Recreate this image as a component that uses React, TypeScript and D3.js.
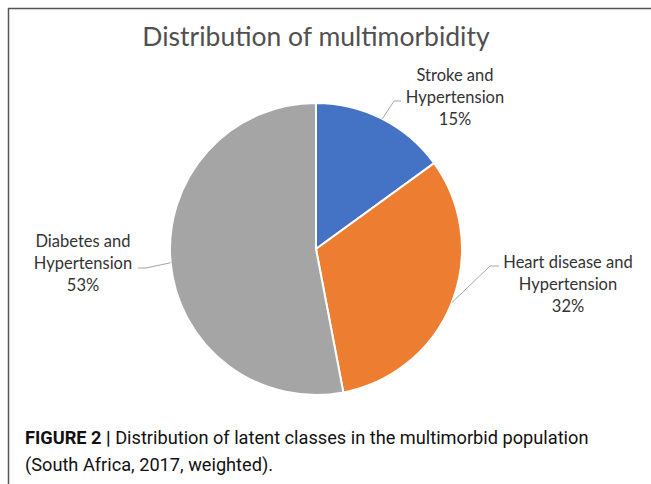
import * as d3 from "d3";

const W = 651;
const H = 484;

// slice data (clockwise from 12 o'clock)
const categories = ["Stroke and Hypertension", "Heart disease and Hypertension", "Diabetes and Hypertension"];
const shares = [15, 32, 53];
const colors = ["#4472C4", "#ED7D31", "#A5A5A5"];
// label lines per slice
const labelLines = [
  ["Stroke and", "Hypertension", "15%"],
  ["Heart disease and", "Hypertension", "32%"],
  ["Diabetes and", "Hypertension", "53%"],
];

const CX = 316;
const CY = 249;
const R = 146;

// label layout: text centre, first line y, leader elbow + end
const LABEL_POS = [
  { x: 455, y: 81, elbow: [394, 101], end: [401, 101] },
  { x: 568, y: 268, elbow: [490, 266], end: [499, 266] },
  { x: 83, y: 247, elbow: [146, 268], end: [138, 268] },
];
const LINE_H = 22;

export default function App() {
  const pie = d3
    .pie<number>()
    .sort(null)
    .value((d) => d);
  const arcs = pie(shares);
  const arcGen = d3.arc<d3.PieArcDatum<number>>().innerRadius(0).outerRadius(R);

  const slices = arcs.map((a, i) => (
    <path key={categories[i]} d={arcGen(a) as string} fill={colors[i]} stroke="#fff" strokeWidth={2} />
  ));

  const labels = arcs.map((a, i) => {
    const mid = (a.startAngle + a.endAngle) / 2;
    const px = CX + R * Math.sin(mid);
    const py = CY - R * Math.cos(mid);
    const p = LABEL_POS[i];
    return (
      <g key={i}>
        <polyline
          points={`${px},${py} ${p.elbow[0]},${p.elbow[1]} ${p.end[0]},${p.end[1]}`}
          fill="none"
          stroke="#a6a6a6"
          strokeWidth={1}
        />
        {labelLines[i].map((t, j) => (
          <text
            key={j}
            x={p.x}
            y={p.y + j * LINE_H}
            textAnchor="middle"
            fontFamily="Lato, 'Open Sans', sans-serif"
            fontSize={16.5}
            fill="#333"
          >
            {t}
          </text>
        ))}
      </g>
    );
  });

  return (
    <svg width={W} height={H} style={{ position: "absolute", left: 0, top: 0, background: "#fff" }}>
      {/* frame */}
      <line x1={8.5} y1={8} x2={8.5} y2={H} stroke="#555" strokeWidth={1.5} />
      <line x1={8} y1={8.5} x2={W} y2={8.5} stroke="#555" strokeWidth={1.5} />
      <text
        x={CX}
        y={46}
        textAnchor="middle"
        fontFamily="Lato, 'Open Sans', sans-serif"
        fontSize={26.5}
        fill="#505050"
      >
        Distribution of multimorbidity
      </text>
      <g transform={`translate(${CX},${CY})`}>{slices}</g>
      {labels}
      <text x={25} y={444} fontFamily="Roboto, sans-serif" fontSize={18.2} fill="#111">
        <tspan fontWeight="bold">FIGURE 2 | </tspan>
        <tspan>Distribution of latent classes in the multimorbid population</tspan>
      </text>
      <text x={25} y={471} fontFamily="Roboto, sans-serif" fontSize={18.2} fill="#111">
        (South Africa, 2017, weighted).
      </text>
    </svg>
  );
}
